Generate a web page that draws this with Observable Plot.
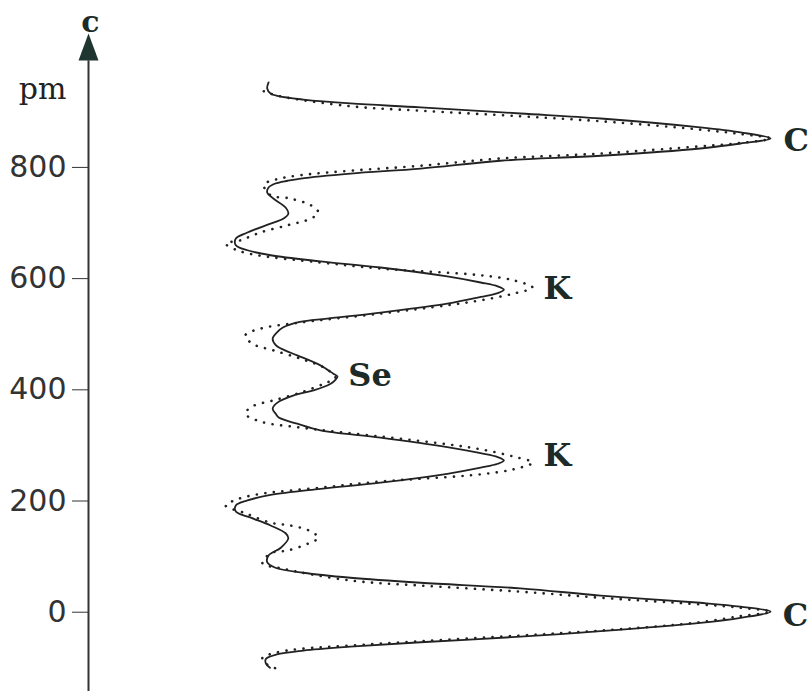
<!DOCTYPE html>
<html>
<head>
<meta charset="utf-8">
<script src="https://cdn.jsdelivr.net/npm/d3@7"></script>
<script src="https://cdn.jsdelivr.net/npm/@observablehq/plot@0.6"></script>
<style>
  html, body { margin: 0; padding: 0; background: #fff; }
  #chart { width: 811px; height: 691px; }
</style>
</head>
<body>
<div id="chart"></div>
<script>
// ---- data: c position (pm) and relative density along c ----
const solidC = [953, 942, 933, 928, 922, 915, 908, 897, 888, 872, 863, 852, 843, 834, 821, 812, 798, 789, 780, 776, 771, 764, 755, 744, 728, 717, 708, 699, 683, 672, 660, 651, 642, 631, 620, 604, 593, 586, 580, 574, 567, 555, 539, 528, 522, 512, 503, 492, 480, 471, 462, 444, 429, 424, 418, 411, 399, 390, 377, 366, 356, 350, 339, 327, 314, 297, 286, 279, 273, 267, 260, 249, 233, 222, 211, 201, 192, 181, 170, 156, 142, 133, 116, 102, 90, 80, 71, 62, 53, 43, 30, 17, 10, 1, -10, -19, -34, -44, -54, -62, -69, -76, -84, -92, -100];
const solidD = [26.4, 26.2, 26.7, 27.9, 31.5, 38.4, 48.7, 63.3, 75.1, 89.7, 95.6, 100.0, 95.6, 89.7, 75.1, 60.4, 48.7, 38.4, 31.1, 29.2, 27.4, 26.4, 26.2, 27.1, 28.9, 29.3, 28.6, 26.7, 23.3, 21.6, 21.6, 23.3, 26.7, 34.0, 42.8, 52.6, 57.5, 60.0, 60.9, 60.0, 57.5, 52.6, 42.8, 35.0, 31.0, 28.5, 27.6, 27.0, 27.5, 28.8, 30.6, 34.0, 35.9, 36.5, 36.2, 35.5, 33.0, 30.1, 27.7, 27.0, 27.5, 27.9, 30.6, 34.0, 42.8, 52.6, 57.5, 60.0, 60.9, 60.0, 57.5, 52.6, 42.8, 34.0, 26.7, 23.3, 21.6, 21.6, 23.8, 26.7, 28.9, 29.3, 28.2, 26.4, 26.2, 27.4, 31.5, 38.4, 48.7, 63.3, 75.1, 89.7, 95.6, 100.0, 95.6, 89.7, 75.1, 63.3, 48.7, 38.4, 31.5, 27.6, 26.0, 26.0, 26.6];

const dottedC = [937, 929, 910, 902, 892, 883, 868, 860, 852, 844, 838, 825, 816, 803, 794, 786, 778, 769, 750, 744, 732, 719, 708, 696, 683, 669, 663, 651, 642, 629, 618, 606, 597, 584, 573, 561, 552, 537, 521, 510, 498, 483, 471, 456, 440, 422, 411, 395, 381, 370, 357, 343, 332, 316, 302, 293, 280, 269, 257, 248, 235, 224, 212, 203, 192, 178, 161, 156, 147, 134, 124, 111, 106, 88, 79, 57, 48, 37, 26, 14, 8, 1, -7, -19, -33, -42, -52, -60, -66, -73, -82, -90, -97, -105];
const dottedD = [25.7, 27.7, 38.4, 48.7, 63.3, 75.1, 89.7, 95.6, 100.0, 95.6, 89.7, 75.1, 60.4, 48.7, 38.4, 31.1, 27.4, 25.7, 26.7, 29.6, 32.6, 33.7, 32.6, 29.2, 25.2, 22.3, 20.1, 21.8, 24.8, 34.0, 42.8, 57.5, 62.3, 65.1, 62.3, 57.5, 52.6, 42.8, 31.1, 25.2, 23.0, 24.0, 27.1, 31.1, 34.5, 36.2, 34.5, 31.1, 27.1, 24.0, 23.0, 25.2, 31.1, 42.8, 52.6, 57.5, 62.3, 65.1, 62.3, 57.5, 42.8, 34.0, 24.8, 21.8, 20.1, 23.0, 26.7, 29.6, 32.3, 33.7, 32.3, 29.2, 26.7, 25.5, 28.2, 38.4, 48.7, 63.3, 75.1, 89.7, 95.6, 100.0, 95.6, 89.0, 75.1, 63.3, 48.7, 38.4, 31.1, 27.4, 25.5, 25.7, 26.7, 28.2];

const atomNames = ["C", "K", "Se", "K", "C"];
const atomC = [848, 581, 426, 282, -6];
const atomD = [101.9, 66.7, 38.1, 66.7, 101.8];

const yTicks = [0, 200, 400, 600, 800];
const yDomain = [-142.6, 1100.2];
const xDomain = [0, 106];
const axisBaseC = 992;   // where the arrow head starts
const arrowTipC = 1041;  // arrow tip
const axisName = "c";
const unitName = "pm";

// ---- build tables ----
const solid = solidC.map((c, i) => ({c, d: solidD[i]}));
const dotted = dottedC.map((c, i) => ({c, d: dottedD[i]}));
const atoms = atomNames.map((name, i) => ({name, c: atomC[i], d: atomD[i]}));

const arrowHead = {
  draw(ctx) {
    ctx.moveTo(0, 0);
    ctx.lineTo(-10, 27);
    ctx.lineTo(10, 27);
    ctx.closePath();
  }
};

const ink = "#222";

const chart = Plot.plot({
  width: 811,
  height: 691,
  marginLeft: 88,
  marginRight: 0,
  marginTop: 0,
  marginBottom: 0,
  style: {fontFamily: "DejaVu Sans", fontSize: "30px", color: "#333", background: "#fff"},
  x: {domain: xDomain, axis: null},
  y: {domain: yDomain, ticks: yTicks, tickSize: 16, tickPadding: 6, label: null},
  marks: [
    Plot.ruleX([0], {y1: yDomain[0], y2: axisBaseC, stroke: "#333", strokeWidth: 2}),
    Plot.dot([arrowTipC], {x: 0, y: d => d, symbol: arrowHead, fill: "#1f3530", stroke: "none"}),
    Plot.line(dotted, {x: "d", y: "c", curve: "catmull-rom", stroke: ink, strokeWidth: 2.6,
      strokeDasharray: "0.1,8.5", strokeLinecap: "round"}),
    Plot.line(solid, {x: "d", y: "c", curve: "catmull-rom", stroke: ink, strokeWidth: 1.8}),
    Plot.text(atoms, {x: "d", y: "c", text: "name", textAnchor: "start", fontFamily: "DejaVu Serif",
      fontWeight: "bold", fontSize: 32, fill: "#1d2b28"}),
    Plot.text([unitName], {frameAnchor: "top-left", lineAnchor: "middle", text: d => d, dx: -46, dy: 89,
      textAnchor: "middle", fontFamily: "DejaVu Serif", fontSize: 30, fill: "#222"}),
    Plot.text([axisName], {frameAnchor: "top-left", lineAnchor: "middle", text: d => d, dx: 2, dy: 22,
      textAnchor: "middle", fontFamily: "DejaVu Serif", fontWeight: "bold", fontSize: 30, fill: "#1d2b28"})
  ]
});
document.getElementById("chart").appendChild(chart);
</script>
</body>
</html>
